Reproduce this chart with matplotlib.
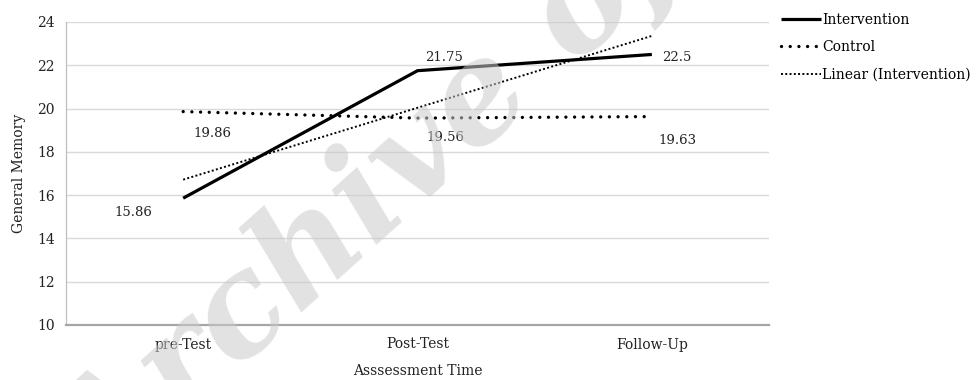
import matplotlib
matplotlib.use("Agg")
import matplotlib.pyplot as plt
import numpy as np

plt.rcParams['font.family'] = ['DejaVu Serif']

# Data
time_points = ["pre-Test", "Post-Test", "Follow-Up"]
intervention = [15.86, 21.75, 22.5]
control = [19.86, 19.56, 19.63]

W, H = 978, 380
fig = plt.figure(figsize=(W / 100, H / 100), dpi=100)
ax = fig.add_axes([66 / W, 55 / H, 703 / W, 303 / H])

x = np.arange(len(time_points)) + 0.5

# Linear trend of the intervention group
t = np.arange(1, len(intervention) + 1)
slope, intercept = np.polyfit(t, intervention, 1)
trend = slope * t + intercept

ax.plot(x, intervention, color="black", lw=2.3, solid_capstyle="butt",
        label="Intervention", zorder=3)
ax.plot(x, control, color="black", lw=2.4, linestyle=(0, (0.01, 2.6)),
        dash_capstyle="round", label="Control", zorder=3)
ax.plot(x, trend, color="black", lw=1.4, linestyle=(0, (1, 1.2)),
        label="Linear (Intervention)", zorder=3)

# Value labels (offsets in pixels, positive dy = upward)
fs = 9.5
label_offsets_int = [(-50, -14), (27, 13), (25, -3)]
label_offsets_ctl = [(29, -22), (28, -19), (26, -24)]
for xi, v, (dx, dy) in zip(x, intervention, label_offsets_int):
    ax.annotate(f"{v:g}", (xi, v), xytext=(dx, dy), textcoords="offset pixels",
                fontsize=fs, ha="center", va="center", color="#222222")
for xi, v, (dx, dy) in zip(x, control, label_offsets_ctl):
    ax.annotate(f"{v:g}", (xi, v), xytext=(dx, dy), textcoords="offset pixels",
                fontsize=fs, ha="center", va="center", color="#222222")

ax.set_xlim(0, 3)
ax.set_ylim(10, 24)
ax.set_yticks(range(10, 25, 2))
ax.set_xticks(x)
ax.set_xticklabels(time_points)
ax.tick_params(length=0, labelsize=10, colors="#222222")
ax.tick_params(axis="x", pad=9)
ax.tick_params(axis="y", pad=21)
for lab in ax.get_yticklabels():
    lab.set_horizontalalignment("left")

ax.grid(axis="y", color="#d9d9d9", lw=1)
ax.set_axisbelow(True)
for s in ["top", "right"]:
    ax.spines[s].set_visible(False)
ax.spines["bottom"].set_color("#a6a6a6")
ax.spines["bottom"].set_linewidth(1.6)
ax.spines["left"].set_color("#bfbfbf")
ax.spines["left"].set_linewidth(0.9)

ax.set_xlabel("Asssessment Time", fontsize=10, color="#222222", labelpad=9)
ax.set_ylabel("General Memory", fontsize=10, color="#222222", labelpad=8)

fig.legend(loc="upper left", bbox_to_anchor=(772 / W, 1 - 4 / H), frameon=False,
           fontsize=10, handlelength=2.9, handletextpad=0.05, labelspacing=0.95,
           borderaxespad=0.25)

# Watermark
fig.text(0.1074, -0.3158, "Archive of SID", fontsize=100, fontweight="bold",
         fontstyle="italic", family="DejaVu Serif", color="#cacaca",
         alpha=0.55, rotation=42, rotation_mode="anchor",
         ha="left", va="baseline", zorder=10)

fig.savefig("out.png", dpi=100, facecolor="white")
